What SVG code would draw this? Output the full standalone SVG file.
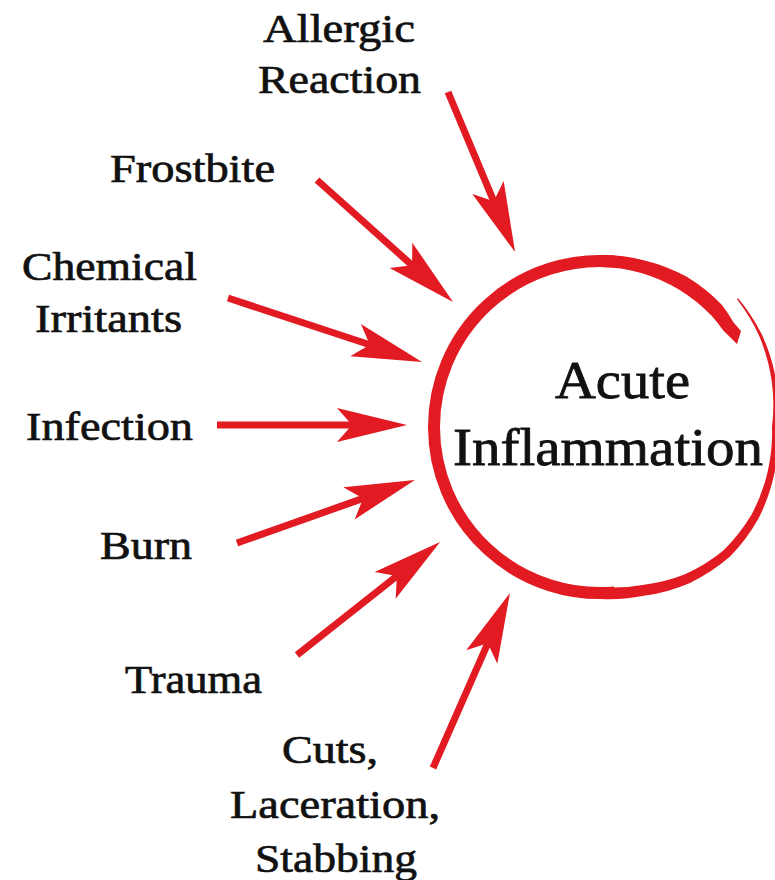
<svg xmlns="http://www.w3.org/2000/svg" width="775" height="880" viewBox="0 0 775 880">
<style>
.lbl{font-family:"Liberation Serif","Times New Roman",serif;font-size:40px;fill:#111;stroke:#111;stroke-width:0.7px;}
.ctr{font-family:"Liberation Serif","Times New Roman",serif;font-size:53px;fill:#111;stroke:#111;stroke-width:0.8px;}
.red{fill:#e21a22;}
.shaft{stroke:#e21a22;stroke-width:7;fill:none;stroke-linecap:butt;marker-end:url(#ah);}
</style>
<defs>
<marker id="ah" markerUnits="userSpaceOnUse" orient="auto" markerWidth="80" markerHeight="40" refX="15" refY="17" viewBox="0 0 80 34" overflow="visible">
<path d="M0,0 L70,17 L0,34 L15,17 Z" fill="#e21a22"/>
</marker>
</defs>
<rect width="775" height="880" fill="#ffffff"/>

<g id="center-node">
<path class="red" d="M738.05,298.27 A187 187 0 0 1 761.5,333.75 A184 184 0 0 1 776,379.8 A180 180 0 0 1 778,427 A179 179 0 0 1 774.3,473.7 A182 182 0 0 1 758.5,518.5 A183 183 0 0 1 729.8,556.8 A182 182 0 0 1 690,582.9 A177 177 0 0 1 645.2,595.6 A173 173 0 0 1 600,599 L600,587 A162 162 0 0 0 642.3,584.9 A167 167 0 0 0 685,574.2 A172 172 0 0 0 723.4,550.4 A175 175 0 0 0 751.6,514.5 A174 174 0 0 0 767.6,471.9 A173 173 0 0 0 772,427 A175 175 0 0 0 771.7,381 A181 181 0 0 0 758.9,335.25 A185 185 0 0 0 736.95,299.3 Z"/>
<path d="M614.5,592.4 A166 166 0 0 1 434,427 A166 166 0 0 1 614.5,261.6" fill="none" stroke="#e21a22" stroke-width="12"/>
<path class="red" d="M600,255 A172 172 0 0 1 644.6,260.4 A173 173 0 0 1 686.75,276.75 A173 173 0 0 1 722,305 A170 170 0 0 1 733.6,322.6 L741,331 L737,344 L723.3,330.6 A158 158 0 0 0 711.4,315.6 A158 158 0 0 0 679.25,289.7 A159 159 0 0 0 641.3,272.9 A160 160 0 0 0 600,267 Z"/>
<text class="ctr" x="555" y="398" textLength="135" lengthAdjust="spacingAndGlyphs">Acute</text>
<text class="ctr" x="453" y="465" textLength="310" lengthAdjust="spacingAndGlyphs">Inflammation</text>
</g>

<g id="allergic-reaction">
<text class="lbl" x="263" y="42" textLength="152" lengthAdjust="spacingAndGlyphs">Allergic</text>
<text class="lbl" x="258" y="93" textLength="163" lengthAdjust="spacingAndGlyphs">Reaction</text>
</g>
<g id="frostbite">
<text class="lbl" x="110" y="182" textLength="165" lengthAdjust="spacingAndGlyphs">Frostbite</text>
</g>
<g id="chemical-irritants">
<text class="lbl" x="22" y="280" textLength="175" lengthAdjust="spacingAndGlyphs">Chemical</text>
<text class="lbl" x="35" y="332" textLength="147" lengthAdjust="spacingAndGlyphs">Irritants</text>
</g>
<g id="infection">
<text class="lbl" x="26" y="440" textLength="167" lengthAdjust="spacingAndGlyphs">Infection</text>
</g>
<g id="burn">
<text class="lbl" x="100" y="559" textLength="92" lengthAdjust="spacingAndGlyphs">Burn</text>
</g>
<g id="trauma">
<text class="lbl" x="125" y="693" textLength="137" lengthAdjust="spacingAndGlyphs">Trauma</text>
</g>
<g id="cuts-laceration-stabbing">
<text class="lbl" x="282" y="763" textLength="96" lengthAdjust="spacingAndGlyphs">Cuts,</text>
<text class="lbl" x="230" y="818" textLength="210" lengthAdjust="spacingAndGlyphs">Laceration,</text>
<text class="lbl" x="255" y="872" textLength="162" lengthAdjust="spacingAndGlyphs">Stabbing</text>
</g>

<g id="connectors">
<line class="shaft" x1="448" y1="92" x2="493.8" y2="201.3"/>
<line class="shaft" x1="317" y1="180" x2="412.1" y2="265.3"/>
<line class="shaft" x1="228" y1="298" x2="369.8" y2="344.8"/>
<line class="shaft" x1="217" y1="425" x2="352" y2="425"/>
<line class="shaft" x1="237" y1="543" x2="363.1" y2="498.4"/>
<line class="shaft" x1="297" y1="655" x2="396.9" y2="576.1"/>
<line class="shaft" x1="433" y1="768" x2="487.8" y2="643.3"/>
</g>
</svg>
